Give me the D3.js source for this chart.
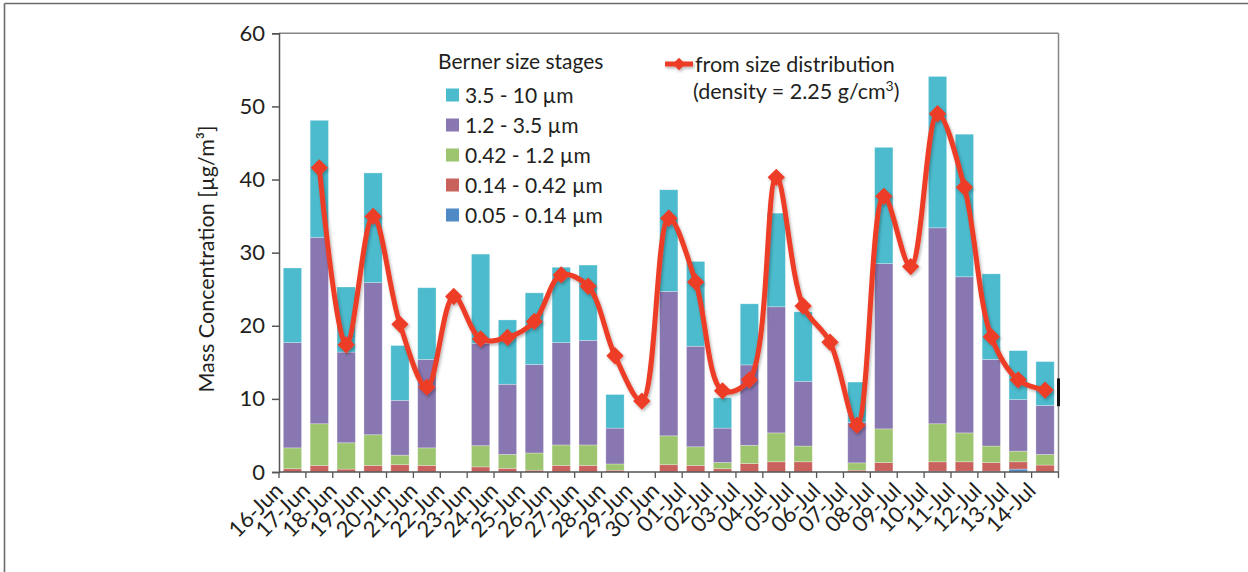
<!DOCTYPE html>
<html>
<head>
<meta charset="utf-8">
<script src="https://cdn.jsdelivr.net/npm/d3@7"></script>
<style>
  html, body { margin: 0; padding: 0; background: #fff; }
  svg { display: block; }
  text { font-family: Lato, "Open Sans", sans-serif; fill: #231f20; }
</style>
</head>
<body>
<svg id="chart" width="1248" height="572"></svg>
<script>
// Sampling days
const dates = ["16-Jun","17-Jun","18-Jun","19-Jun","20-Jun","21-Jun","22-Jun","23-Jun","24-Jun","25-Jun",
  "26-Jun","27-Jun","28-Jun","29-Jun","30-Jun","01-Jul","02-Jul","03-Jul","04-Jul","05-Jul","06-Jul",
  "07-Jul","08-Jul","09-Jul","10-Jul","11-Jul","12-Jul","13-Jul","14-Jul"];

// Berner impactor stage masses (µg/m³); null = no impactor sample
const stage005 = [0,0,0,0,0,0,null,0,0,0,0,0,0,null,0,0,0,0,0,0,null,0,0.1,null,0.1,0.1,0.1,0.4,0];
const stage014 = [0.45,0.9,0.4,0.9,1.0,0.9,null,0.7,0.5,0.25,0.9,0.9,0.25,null,1.0,0.9,0.45,1.15,1.4,1.4,null,0.25,1.2,null,1.3,1.3,1.2,1.0,0.95];
const stage042 = [2.85,5.7,3.6,4.2,1.3,2.4,null,2.9,1.9,2.35,2.8,2.8,0.85,null,3.95,2.55,0.85,2.5,3.95,2.15,null,1.0,4.6,null,5.2,3.95,2.25,1.45,1.45];
const stage12  = [14.4,25.5,12.4,20.8,7.5,12.1,null,14.0,9.6,12.1,14.0,14.3,4.9,null,19.75,13.75,4.7,11.0,17.25,8.85,null,5.55,22.6,null,26.8,21.35,11.85,7.05,6.7];
const stage35  = [10.2,16.0,8.9,15.0,7.5,9.8,null,12.2,8.8,9.8,10.3,10.3,4.6,null,13.9,11.6,4.15,8.35,12.8,9.5,null,5.5,15.9,null,20.7,19.5,11.7,6.7,6.0];

// Mass from the measured size distribution (density = 2.25 g/cm³)
const sizeDist = [null,41.6,17.4,34.95,20.2,11.6,24.0,18.2,18.4,20.6,26.96,25.4,15.9,9.7,34.7,26.0,11.1,12.6,40.3,22.7,17.75,6.4,37.7,28.1,49.0,38.95,18.5,12.6,11.2];

const yTicks = [0,10,20,30,40,50,60];

const stageKeys = ["s005","s014","s042","s12","s35"];
const stageLabels = {
  s35: "3.5 - 10 µm", s12: "1.2 - 3.5 µm", s042: "0.42 - 1.2 µm",
  s014: "0.14 - 0.42 µm", s005: "0.05 - 0.14 µm"
};
const stageColors = {
  s005: "#4f8ac6", s014: "#c9625d", s042: "#9dc46f", s12: "#8977b1", s35: "#4bbbcd"
};
const lineColor = "#ee3d27";

const rows = dates.map((d, i) => ({
  date: d,
  s005: stage005[i] || 0, s014: stage014[i] || 0, s042: stage042[i] || 0,
  s12: stage12[i] || 0, s35: stage35[i] || 0
}));

const svg = d3.select("#chart");

// page frame (top and left edges)
svg.append("line").attr("x1", 4.5).attr("x2", 1248).attr("y1", 3.5).attr("y2", 3.5)
  .attr("stroke", "#6b6b6b").attr("stroke-width", 1.6);
svg.append("line").attr("x1", 4.5).attr("x2", 4.5).attr("y1", 3.5).attr("y2", 572)
  .attr("stroke", "#6b6b6b").attr("stroke-width", 1.6);

const plotLeft = 279, plotRight = 1058.5, plotTop = 33.3, plotBottom = 472;

const x = d3.scaleBand().domain(dates).range([plotLeft, plotRight]).paddingInner(0.32).paddingOuter(0.16);
const y = d3.scaleLinear().domain([0, 60]).range([plotBottom, plotTop]);

const defs = svg.append("defs");
const shadow = defs.append("filter").attr("id", "shadow")
  .attr("x", "-20%").attr("y", "-20%").attr("width", "140%").attr("height", "140%");
shadow.append("feDropShadow").attr("dx", 1.2).attr("dy", 1.8).attr("stdDeviation", 1.4)
  .attr("flood-color", "#000").attr("flood-opacity", 0.3);

// plot box: top and right edges
svg.append("line").attr("x1", plotLeft).attr("x2", plotRight).attr("y1", plotTop).attr("y2", plotTop)
  .attr("stroke", "#858585").attr("stroke-width", 1.5);
svg.append("line").attr("x1", plotRight).attr("x2", plotRight).attr("y1", plotTop).attr("y2", plotBottom)
  .attr("stroke", "#858585").attr("stroke-width", 1.5);

// stacked bars
const stacked = d3.stack().keys(stageKeys)(rows);
const bars = svg.append("g");
stacked.forEach(layer => {
  bars.append("g").attr("fill", stageColors[layer.key])
    .selectAll("rect").data(layer).join("rect")
    .attr("x", d => x(d.data.date))
    .attr("width", x.bandwidth())
    .attr("y", d => y(d[1]))
    .attr("height", d => Math.max(0, y(d[0]) - y(d[1])))
    .attr("stroke", "rgba(255,255,255,0.35)")
    .attr("stroke-width", 0.8);
});

// y axis
const yAxis = svg.append("g").attr("transform", `translate(${plotLeft},0)`)
  .call(d3.axisLeft(y).tickValues(yTicks).tickSize(7).tickPadding(7).tickFormat(d3.format("d")));
yAxis.select(".domain").attr("stroke", "#555").attr("stroke-width", 1.5);
yAxis.selectAll(".tick line").attr("stroke", "#555").attr("stroke-width", 1.5);
yAxis.selectAll(".tick text").attr("font-size", 22).attr("fill", "#231f20")
  .style("font-family", "Lato, sans-serif");

// x axis: baseline with ticks between categories
const xg = svg.append("g");
xg.append("line").attr("x1", plotLeft).attr("x2", plotRight).attr("y1", plotBottom).attr("y2", plotBottom)
  .attr("stroke", "#555").attr("stroke-width", 1.5);
const bounds = d3.range(dates.length + 1).map(i => x.range()[0] + i * x.step());
xg.selectAll("line.tk").data(bounds).join("line").attr("class", "tk")
  .attr("x1", d => d).attr("x2", d => d).attr("y1", plotBottom).attr("y2", plotBottom + 6)
  .attr("stroke", "#555").attr("stroke-width", 1.3);
xg.selectAll("text").data(dates).join("text")
  .attr("transform", d => `translate(${x(d) + x.bandwidth() / 2 - 8},${plotBottom + 20}) rotate(-45)`)
  .attr("text-anchor", "end")
  .attr("font-size", 22)
  .text(d => d);

// y title
svg.append("text")
  .attr("transform", `translate(214,259) rotate(-90)`)
  .attr("text-anchor", "middle").attr("font-size", 21.5)
  .text("Mass Concentration [µg/m³]");

// size-distribution curve with markers
const pts = dates.map((d, i) => ({ date: d, v: sizeDist[i] })).filter(p => p.v != null);
const line = d3.line()
  .x(p => x(p.date) + x.bandwidth() / 2)
  .y(p => y(p.v))
  .curve(d3.curveCatmullRom.alpha(0.5));
const lg = svg.append("g").attr("filter", "url(#shadow)");
lg.append("path").datum(pts).attr("d", line)
  .attr("fill", "none").attr("stroke", lineColor).attr("stroke-width", 5)
  .attr("stroke-linejoin", "round").attr("stroke-linecap", "round");
const diamond = d3.symbol().type(d3.symbolSquare).size(150);
lg.selectAll("path.mk").data(pts).join("path").attr("class", "mk")
  .attr("d", diamond)
  .attr("transform", p => `translate(${x(p.date) + x.bandwidth() / 2},${y(p.v)}) rotate(45)`)
  .attr("fill", lineColor);

// legend: impactor stages
const leg = svg.append("g");
leg.append("text").attr("x", 438).attr("y", 69).attr("font-size", 21).text("Berner size stages");
const legendOrder = ["s35","s12","s042","s014","s005"];
legendOrder.forEach((k, i) => {
  const cy = 95 + i * 30;
  leg.append("rect").attr("x", 446).attr("y", cy - 6.5).attr("width", 13).attr("height", 13)
    .attr("fill", stageColors[k]);
  leg.append("text").attr("x", 465).attr("y", cy + 7.5).attr("font-size", 21).text(stageLabels[k]);
});

// legend: size distribution curve
const leg2 = svg.append("g").attr("filter", "url(#shadow)");
leg2.append("line").attr("x1", 665).attr("x2", 693).attr("y1", 64).attr("y2", 64)
  .attr("stroke", lineColor).attr("stroke-width", 5);
leg2.append("path").attr("d", d3.symbol().type(d3.symbolSquare).size(80))
  .attr("transform", "translate(679,64) rotate(45)").attr("fill", lineColor);
svg.append("text").attr("x", 695).attr("y", 72).attr("font-size", 21.5).text("from size distribution");
const dens = svg.append("text").attr("x", 693).attr("y", 99).attr("font-size", 21.5);
dens.append("tspan").text("(density = 2.25 g/cm");
dens.append("tspan").attr("font-size", 14).attr("dy", -8).text("3");
dens.append("tspan").attr("dy", 8).text(")");

// small dark mark on the right edge of the plot box
svg.append("line").attr("x1", plotRight).attr("x2", plotRight).attr("y1", y(12.8)).attr("y2", y(9.0))
  .attr("stroke", "#111").attr("stroke-width", 3);
</script>
</body>
</html>
